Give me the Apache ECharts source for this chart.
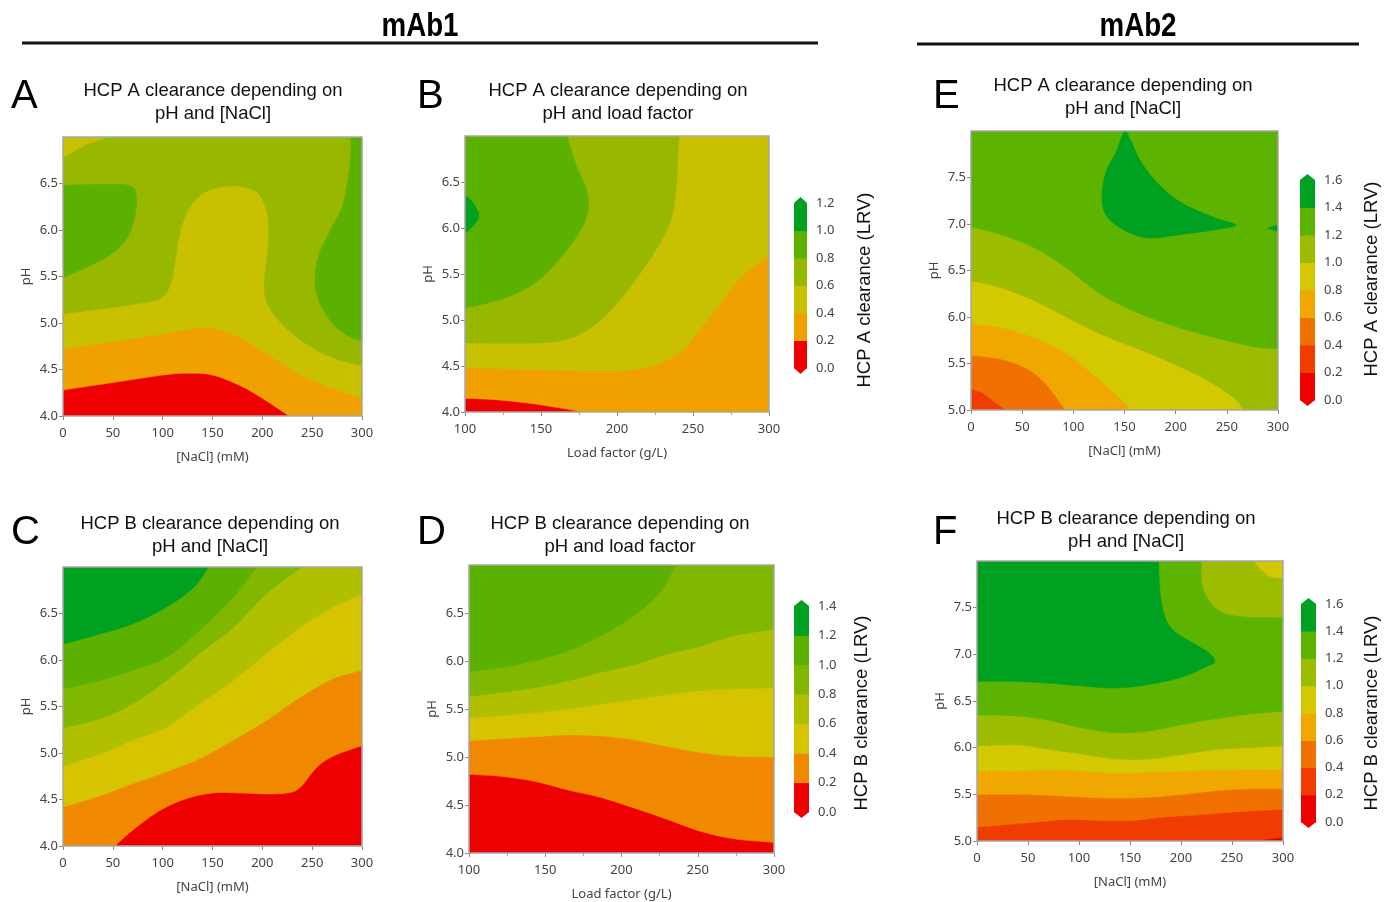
<!DOCTYPE html>
<html><head><meta charset="utf-8">
<script src="https://cdn.jsdelivr.net/npm/echarts@6/dist/echarts.min.js"></script>
<style>html,body{margin:0;padding:0;background:#fff}#c{width:1386px;height:902px}</style>
</head><body><div id="c"></div>
<script>
// ---------- scales / legend levels ----------
const levelsAB = [0, 0.2, 0.4, 0.6, 0.8, 1.0, 1.2];
const levelsCD = [0, 0.2, 0.4, 0.6, 0.8, 1.0, 1.2, 1.4];
const levelsEF = [0, 0.2, 0.4, 0.6, 0.8, 1.0, 1.2, 1.4, 1.6];
const colorsAB = ['#ee0000', '#f0a000', '#c8c000', '#98b800', '#5cb000', '#00a020'];
const colorsCD = ['#ee0000', '#f08800', '#d6c400', '#b0c000', '#80b800', '#5cb000', '#00a020'];
const colorsEF = ['#ee0000', '#f03c00', '#f07000', '#f0a800', '#d4c800', '#9cbc00', '#5cb400', '#00a020'];

// ---------- contour boundaries (data coords: [x, pH]) ----------
// Panel A: HCP A, mAb1, pH vs NaCl
const A_c02 = [[0,4.28],[50,4.36],[100,4.44],[125,4.46],[150,4.44],[177,4.33],[200,4.19],[227,4.0]];
const A_c04 = [[0,4.72],[50,4.80],[100,4.88],[140,4.95],[170,4.88],[200,4.70],[237,4.45],[270,4.30],[300,4.19]];
const A_c06 = [[0,5.10],[37,5.15],[70,5.20],[97,5.26],[108,5.42],[113,5.70],[118,6.00],[127,6.24],[140,6.39],[157,6.46],[177,6.47],[194,6.41],[202,6.28],[206,6.10],[206,5.85],[204,5.64],[202,5.42],[204,5.24],[214,5.06],[231,4.88],[254,4.71],[278,4.60],[300,4.54]];
const A_c06top = [[47,7.0],[23,6.91],[0,6.77]];
const A_c08left = [[0,6.48],[40,6.49],[65,6.48],[73,6.40],[73,6.20],[68,6.00],[60,5.85],[48,5.74],[28,5.62],[0,5.49]];
const A_c08right = [[289,7.0],[288,6.71],[281,6.28],[268,5.99],[256,5.71],[253,5.42],[258,5.21],[271,4.99],[288,4.85],[300,4.81]];
// Panel B: HCP A, mAb1, pH vs load factor
const B_c02 = [[100,4.15],[123,4.13],[149,4.08],[178,4.0]];
const B_c04 = [[100,4.48],[145,4.46],[189,4.44],[211,4.46],[228,4.53],[243,4.67],[254,4.89],[265,5.11],[276,5.36],[287,5.54],[300,5.70]];
const B_c06 = [[100,4.75],[145,4.75],[167,4.79],[184,4.93],[200,5.18],[215,5.50],[228,5.83],[236,6.12],[239,6.44],[240,6.80],[241,7.0]];
const B_c08 = [[167,7.0],[173,6.69],[180,6.41],[181,6.19],[177,6.01],[167,5.76],[151,5.47],[134,5.29],[114,5.18],[100,5.13]];
const B_c10 = [[100,6.35],[104,6.30],[108,6.20],[109,6.15],[108,6.08],[104,6.00],[100,5.94]];
// Panel C: HCP B, mAb1, pH vs NaCl
const C_c02 = [[52,4.0],[70,4.17],[97,4.38],[124,4.51],[151,4.57],[178,4.57],[204,4.56],[225,4.57],[238,4.63],[255,4.85],[272,4.97],[300,5.08]];
const C_c04 = [[0,4.42],[37,4.54],[70,4.67],[104,4.80],[137,4.94],[171,5.14],[204,5.35],[238,5.60],[271,5.80],[300,5.89]];
const C_c06 = [[0,4.86],[37,4.99],[70,5.14],[104,5.28],[137,5.53],[171,5.78],[204,6.07],[238,6.35],[271,6.57],[300,6.71]];
const C_c08 = [[0,5.27],[37,5.37],[70,5.53],[104,5.78],[137,6.07],[171,6.35],[204,6.71],[240,7.0]];
const C_c10 = [[0,5.69],[37,5.78],[70,5.89],[104,6.03],[137,6.32],[171,6.68],[194,7.0]];
const C_c12 = [[0,6.17],[37,6.28],[70,6.39],[104,6.57],[131,6.78],[146,7.0]];
// Panel D: HCP B, mAb1, pH vs load factor
const D_c02 = [[100,4.82],[120,4.80],[142,4.75],[164,4.66],[186,4.58],[208,4.47],[230,4.35],[251,4.23],[273,4.15],[300,4.11]];
const D_c04 = [[100,5.17],[120,5.19],[142,5.21],[164,5.23],[186,5.22],[208,5.18],[230,5.11],[251,5.05],[273,5.01],[300,5.0]];
const D_c06 = [[100,5.41],[120,5.43],[142,5.46],[164,5.50],[186,5.55],[208,5.60],[230,5.65],[251,5.69],[273,5.71],[300,5.72]];
const D_c08 = [[100,5.63],[120,5.67],[142,5.72],[164,5.79],[186,5.88],[208,5.96],[230,6.07],[251,6.15],[273,6.26],[300,6.33]];
const D_c10 = [[100,5.89],[120,5.93],[142,6.0],[164,6.10],[186,6.26],[208,6.47],[225,6.71],[233,6.92],[236,7.0]];
// Panel E: HCP A, mAb2, pH vs NaCl
const E_c04 = [[0,5.23],[12,5.18],[25,5.07],[35,5.0]];
const E_c06 = [[0,5.59],[28,5.55],[54,5.45],[74,5.27],[92,5.0]];
const E_c08 = [[0,5.93],[28,5.89],[61,5.78],[93,5.61],[126,5.32],[149,5.09],[155,5.0]];
const E_c10 = [[0,6.39],[28,6.32],[61,6.18],[93,6.0],[126,5.82],[158,5.68],[191,5.53],[224,5.36],[256,5.14],[266,5.0]];
const E_c12 = [[0,6.97],[28,6.89],[61,6.75],[93,6.53],[126,6.25],[158,6.07],[191,5.93],[224,5.82],[256,5.73],[282,5.67],[300,5.66]];
const E_c14 = [[150,8.0],[142,7.78],[132,7.56],[128,7.28],[133,7.08],[152,6.92],[175,6.85],[207,6.89],[240,6.94],[259,6.99],[240,7.06],[207,7.22],[184,7.42],[166,7.67],[156,7.9]];
const E_c14b = [[300,6.99],[290,6.955],[300,6.92]];
// Panel F: HCP B, mAb2, pH vs NaCl
const F_c00 = [[275,5.0],[300,5.035],[300,5.0]];
const F_c04 = [[0,5.15],[55,5.20],[88,5.23],[121,5.22],[153,5.22],[186,5.26],[218,5.28],[251,5.31],[300,5.34]];
const F_c06 = [[0,5.50],[39,5.50],[72,5.49],[104,5.47],[137,5.46],[170,5.47],[202,5.50],[235,5.54],[267,5.56],[300,5.56]];
const F_c08 = [[0,5.75],[39,5.75],[72,5.76],[104,5.75],[137,5.73],[170,5.74],[202,5.75],[235,5.76],[300,5.77]];
const F_c10 = [[0,6.02],[39,6.03],[72,5.98],[104,5.93],[137,5.88],[170,5.88],[202,5.93],[235,5.98],[267,6.0],[300,6.02]];
const F_c10corner = [[300,7.81],[287,7.83],[277,7.92],[271,8.0]];
const F_c12 = [[0,6.35],[39,6.34],[72,6.29],[104,6.21],[137,6.16],[170,6.18],[202,6.25],[235,6.31],[267,6.36],[300,6.39]];
const F_c12corner = [[300,7.39],[261,7.40],[238,7.46],[225,7.62],[220,7.79],[220,8.0]];
const F_c14 = [[0,6.71],[39,6.71],[72,6.69],[104,6.66],[137,6.64],[170,6.68],[202,6.76],[225,6.87],[233,6.92],[228,7.01],[212,7.12],[192,7.26],[183,7.44],[179,7.72],[178,8.0]];

// ---------- region helpers ----------
const S = p => ({smooth: true, p});
const K = p => ({smooth: false, p});
const O = p => ({smooth: true, closed: true, p});
function rect(x, y) { return [[x[0], y[0]], [x[1], y[0]], [x[1], y[1]], [x[0], y[1]]]; }

const panels = [
  { key:'A', x:[0,300], y:[4,7], xName:'[NaCl] (mM)', colors: colorsAB,
    grid:{left:63, top:137, width:299, height:279},
    regions: [
      {band:0, segs:[K(rect([0,300],[4,7]))]},
      {band:1, segs:[S(A_c02), K([[300,4],[300,7],[0,7]])]},
      {band:2, segs:[S(A_c04), K([[300,7],[0,7]])]},
      {band:3, segs:[S(A_c06), K([[300,7]]), S(A_c06top)]},
      {band:4, segs:[S(A_c08left)]},
      {band:4, segs:[S(A_c08right), K([[300,7]])]}
    ]},
  { key:'B', x:[100,300], y:[4,7], xName:'Load factor (g/L)', colors: colorsAB, minor:true,
    grid:{left:465, top:136, width:304, height:276},
    regions: [
      {band:0, segs:[K(rect([100,300],[4,7]))]},
      {band:1, segs:[S(B_c02), K([[300,4],[300,7],[100,7]])]},
      {band:2, segs:[S(B_c04), K([[300,7],[100,7]])]},
      {band:3, segs:[S(B_c06), K([[100,7]])]},
      {band:4, segs:[S(B_c08), K([[100,7]])]},
      {band:5, segs:[S(B_c10)]}
    ]},
  { key:'E', x:[0,300], y:[5,8], xName:'[NaCl] (mM)', colors: colorsEF,
    grid:{left:971, top:131, width:307, height:279},
    regions: [
      {band:1, segs:[K(rect([0,300],[5,8]))]},
      {band:2, segs:[S(E_c04), K([[300,5],[300,8],[0,8]])]},
      {band:3, segs:[S(E_c06), K([[300,5],[300,8],[0,8]])]},
      {band:4, segs:[S(E_c08), K([[300,5],[300,8],[0,8]])]},
      {band:5, segs:[S(E_c10), K([[300,5],[300,8],[0,8]])]},
      {band:6, segs:[S(E_c12), K([[300,8],[0,8]])]},
      {band:7, segs:[O(E_c14)]},
      {band:7, segs:[K(E_c14b)]}
    ]},
  { key:'C', x:[0,300], y:[4,7], xName:'[NaCl] (mM)', colors: colorsCD,
    grid:{left:63, top:567, width:299, height:279},
    regions: [
      {band:0, segs:[K(rect([0,300],[4,7]))]},
      {band:1, segs:[S(C_c02), K([[300,7],[0,7],[0,4]])]},
      {band:2, segs:[S(C_c04), K([[300,7],[0,7]])]},
      {band:3, segs:[S(C_c06), K([[300,7],[0,7]])]},
      {band:4, segs:[S(C_c08), K([[0,7]])]},
      {band:5, segs:[S(C_c10), K([[0,7]])]},
      {band:6, segs:[S(C_c12), K([[0,7]])]}
    ]},
  { key:'D', x:[100,300], y:[4,7], xName:'Load factor (g/L)', colors: colorsCD, minor:true,
    grid:{left:469, top:565, width:305, height:289},
    regions: [
      {band:0, segs:[K(rect([100,300],[4,7]))]},
      {band:1, segs:[S(D_c02), K([[300,7],[100,7]])]},
      {band:2, segs:[S(D_c04), K([[300,7],[100,7]])]},
      {band:3, segs:[S(D_c06), K([[300,7],[100,7]])]},
      {band:4, segs:[S(D_c08), K([[300,7],[100,7]])]},
      {band:5, segs:[S(D_c10), K([[100,7]])]}
    ]},
  { key:'F', x:[0,300], y:[5,8], xName:'[NaCl] (mM)', colors: colorsEF,
    grid:{left:977, top:561, width:306, height:280},
    regions: [
      {band:1, segs:[K(rect([0,300],[5,8]))]},
      {band:0, segs:[K(F_c00)]},
      {band:2, segs:[S(F_c04), K([[300,8],[0,8]])]},
      {band:3, segs:[S(F_c06), K([[300,8],[0,8]])]},
      {band:4, segs:[S(F_c08), K([[300,8],[0,8]])]},
      {band:5, segs:[S(F_c10), S(F_c10corner), K([[0,8]])]},
      {band:6, segs:[S(F_c12), S(F_c12corner), K([[0,8]])]},
      {band:7, segs:[S(F_c14), K([[0,8]])]}
    ]}
];

const colorbars = [
  { levels: levelsAB, colors: colorsAB, grid:{left:794, top:203, width:13, height:165}, title:'HCP A clearance (LRV)', tx:865, ty:290 },
  { levels: levelsCD, colors: colorsCD, grid:{left:794, top:606, width:15, height:206}, title:'HCP B clearance (LRV)', tx:862, ty:713 },
  { levels: levelsEF, colors: colorsEF, grid:{left:1300, top:180, width:15, height:220}, title:'HCP A clearance (LRV)', tx:1372, ty:279 },
  { levels: levelsEF, colors: colorsEF, grid:{left:1301, top:604, width:15, height:218}, title:'HCP B clearance (LRV)', tx:1372, ty:713 }
];

// Catmull-Rom spline through pixel points (rendering only)
function spline(pts, closed) {
  const n = pts.length, out = [], steps = 10;
  if (n < 3) return pts.slice();
  const get = i => closed ? pts[(i + n) % n] : pts[Math.max(0, Math.min(n - 1, i))];
  const segCount = closed ? n : n - 1;
  for (let i = 0; i < segCount; i++) {
    const p0 = get(i - 1), p1 = get(i), p2 = get(i + 1), p3 = get(i + 2);
    for (let t = 0; t < steps; t++) {
      const s = t / steps, s2 = s * s, s3 = s2 * s;
      const f = k => 0.5 * ((2 * p1[k]) + (-p0[k] + p2[k]) * s + (2 * p0[k] - 5 * p1[k] + 4 * p2[k] - p3[k]) * s2 + (-p0[k] + 3 * p1[k] - 3 * p2[k] + p3[k]) * s3);
      out.push([f(0), f(1)]);
    }
  }
  if (!closed) out.push(pts[n - 1]);
  return out;
}

const FONT = '"Noto Sans", "DejaVu Sans", sans-serif';
const grids = [], xAxes = [], yAxes = [], series = [];

panels.forEach((pn, i) => {
  grids.push(Object.assign({containLabel:false}, pn.grid));
  xAxes.push({
    type:'value', gridIndex:i, min:pn.x[0], max:pn.x[1], interval:50,
    axisLine:{show:false}, splitLine:{show:false},
    axisTick:{show:true, length:4, lineStyle:{color:'#888'}},
    minorTick: pn.minor ? {show:true, splitNumber:2, length:3, lineStyle:{color:'#aaa'}} : {show:false},
    axisLabel:{fontSize:13, color:'#444', fontFamily:FONT, margin:11},
    name: pn.xName, nameLocation:'middle', nameGap:35,
    nameTextStyle:{fontSize:13, color:'#444', fontFamily:FONT}
  });
  yAxes.push({
    type:'value', gridIndex:i, min:pn.y[0], max:pn.y[1], interval:0.5,
    axisLine:{show:false}, splitLine:{show:false},
    axisTick:{show:true, length:4, lineStyle:{color:'#888'}},
    axisLabel:{fontSize:13, color:'#444', fontFamily:FONT, margin:5, showMaxLabel:false,
      formatter: v => v.toFixed(1)},
    name:'pH', nameLocation:'middle', nameGap:30,
    nameTextStyle:{fontSize:13, color:'#444', fontFamily:FONT}
  });
  series.push({
    type:'custom', xAxisIndex:i, yAxisIndex:i, clip:true, silent:true, z:2,
    data: pn.regions.map(() => [pn.x[0], pn.y[0]]),
    renderItem: (params, api) => {
      const r = pn.regions[params.dataIndex];
      let pts = [];
      r.segs.forEach(sg => {
        const px = sg.p.map(p => api.coord(p));
        pts = pts.concat(sg.smooth ? spline(px, !!sg.closed) : px);
      });
      const c = pn.colors[r.band];
      return {type:'polygon', shape:{points:pts}, style:{fill:c, stroke:c, lineWidth:0.6}};
    }
  });
  // frame
  series.push({
    type:'custom', xAxisIndex:i, yAxisIndex:i, clip:false, silent:true, z:4,
    data: [[pn.x[0], pn.y[0]]],
    renderItem: (params, api) => {
      const a = api.coord([pn.x[0], pn.y[1]]), b = api.coord([pn.x[1], pn.y[0]]);
      return {type:'rect', shape:{x:a[0], y:a[1], width:b[0]-a[0], height:b[1]-a[1]},
        style:{fill:'none', stroke:'#a6a6a6', lineWidth:1.5}};
    }
  });
});

colorbars.forEach((cb, j) => {
  const gi = grids.length;
  grids.push(Object.assign({containLabel:false}, cb.grid));
  const top = cb.levels[cb.levels.length - 1];
  xAxes.push({type:'value', gridIndex:gi, min:0, max:1, show:false});
  yAxes.push({
    type:'value', gridIndex:gi, min:0, max:top, interval:0.2, position:'right',
    axisLine:{show:false}, splitLine:{show:false},
    axisTick:{show:false},
    axisLabel:{fontSize:13, color:'#444', fontFamily:FONT, margin:9, formatter: v => v.toFixed(1)}
  });
  const nb = cb.colors.length;
  const items = [];
  for (let k = 0; k < nb + 2; k++) items.push([0, 0]);
  series.push({
    type:'custom', xAxisIndex:gi, yAxisIndex:gi, clip:false, silent:true,
    data: items,
    renderItem: (params, api) => {
      const k = params.dataIndex;
      if (k < nb) {
        const a = api.coord([0, cb.levels[k + 1]]), b = api.coord([1, cb.levels[k]]);
        return {type:'rect', shape:{x:a[0], y:a[1], width:b[0]-a[0], height:b[1]-a[1] + 0.5},
          style:{fill:cb.colors[k]}};
      }
      const lv = k === nb ? 0 : top;
      const a = api.coord([0, lv]), b = api.coord([1, lv]);
      const d = k === nb ? 6 : -6;
      const col = k === nb ? cb.colors[0] : cb.colors[nb - 1];
      return {type:'polygon', shape:{points:[[a[0], a[1]], [b[0], b[1]], [(a[0]+b[0])/2, a[1] + d]]},
        style:{fill:col}};
    }
  });
});

const TFONT = '"Liberation Sans", Arial, sans-serif';
const graphic = [
  {type:'text', x:420, y:27, scaleX:0.84, style:{text:'mAb1', font:'bold 33px "Liberation Sans", Arial', fill:'#000', align:'center', verticalAlign:'middle'}},
  {type:'text', x:1138, y:27, scaleX:0.84, style:{text:'mAb2', font:'bold 33px "Liberation Sans", Arial', fill:'#000', align:'center', verticalAlign:'middle'}},
  {type:'line', shape:{x1:22, y1:43, x2:818, y2:43}, style:{stroke:'#111', lineWidth:3}},
  {type:'line', shape:{x1:917, y1:44, x2:1359, y2:44}, style:{stroke:'#111', lineWidth:3}}
];
const letters = [['A',11,97],['B',417,97],['E',933,97],['C',11,533],['D',417,533],['F',933,533]];
letters.forEach(l => graphic.push({type:'text', x:l[1], y:l[2], style:{text:l[0], font:'40px ' + TFONT, fill:'#000', align:'left', verticalAlign:'middle'}}));
const titles = [
  ['HCP A clearance depending on\npH and [NaCl]', 213, 102],
  ['HCP A clearance depending on\npH and load factor', 618, 102],
  ['HCP A clearance depending on\npH and [NaCl]', 1123, 97],
  ['HCP B clearance depending on\npH and [NaCl]', 210, 535],
  ['HCP B clearance depending on\npH and load factor', 620, 535],
  ['HCP B clearance depending on\npH and [NaCl]', 1126, 530]
];
titles.forEach(t => graphic.push({type:'text', x:t[1], y:t[2], style:{text:t[0], font:'18.5px ' + TFONT, fill:'#111', align:'center', verticalAlign:'middle', lineHeight:23}}));
colorbars.forEach(cb => graphic.push({type:'text', x:cb.tx, y:cb.ty, rotation:Math.PI/2,
  style:{text:cb.title, font:'18.5px ' + TFONT, fill:'#111', align:'center', verticalAlign:'middle'}}));

const chart = echarts.init(document.getElementById('c'), null, {renderer:'canvas'});
chart.setOption({
  animation:false,
  backgroundColor:'#fff',
  textStyle:{fontFamily:FONT},
  grid: grids, xAxis: xAxes, yAxis: yAxes, series: series, graphic: graphic
});
</script></body></html>
